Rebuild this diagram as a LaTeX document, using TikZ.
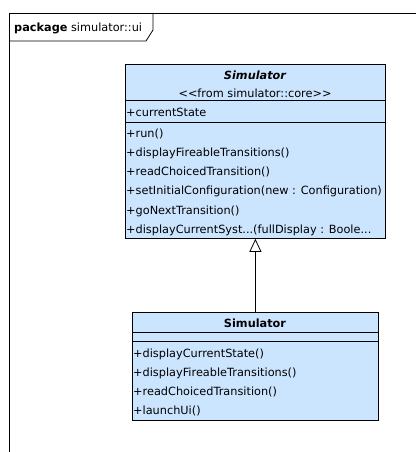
\documentclass[tikz,border=0pt]{standalone}
\usepackage{fontspec}
\newfontfamily\umlfont{DejaVu Sans}
\usetikzlibrary{arrows.meta,calc}
\definecolor{classblue}{RGB}{204,229,255}

\begin{document}
\begin{tikzpicture}[x=1pt,y=-1pt,
	  every node/.style={font=\umlfont\fontsize{11.3}{13}\selectfont,inner sep=0pt},
	  classbox/.style={draw=black,fill=classblue,line width=0.8pt,anchor=north west},
	  member/.style={anchor=base west},
	  title/.style={anchor=base},
	  frame/.style={line width=0.8pt},
	  separator/.style={line width=0.8pt},
	  inherit/.style={-{Triangle[open,width=12pt,length=13pt]},line width=0.8pt}]

	  \useasboundingbox (0,0) rectangle (416,452);

	  % package frame and its tab
	  \draw[frame] (9,452) -- (9,13) -- (416,13);
	  \draw[frame] (9,41) -- (146,41) -- (153,30) -- (153,13);
	  \node[member] (pkg) at (14,32) {\textbf{package} simulator::ui};

	  % class from simulator::core
	  \node[classbox,minimum width=260pt,minimum height=174pt] (core) at (125,64) {};
	  \draw[separator] ($(core.north west)+(0,36)$) -- ($(core.north east)+(0,36)$);
	  \draw[separator] ($(core.north west)+(0,58)$) -- ($(core.north east)+(0,58)$);
	  \node[title] (coretitle) at (255,79) {\bfseries\itshape Simulator};
	  \node[title] (corestereo) at (255,97) {<<from simulator::core>>};
	  \node[member] (currentstate) at (126,116) {+currentState};
	  \node[member] (run) at (126,137) {+run()};
	  \node[member] (corefireable) at (126,156) {+displayFireableTransitions()};
	  \node[member] (corechoiced) at (126,175) {+readChoicedTransition()};
	  \node[member] (initconf) at (126,194) {+setInitialConfiguration(new : Configuration)};
	  \node[member] (gonext) at (126,214) {+goNextTransition()};
	  \node[member] (currentsyst) at (126,233) {+displayCurrentSyst...(fullDisplay : Boole...};

	  % class of simulator::ui
	  \node[classbox,minimum width=246pt,minimum height=108pt] (ui) at (132,312) {};
	  \draw[separator] ($(ui.north west)+(0,20)$) -- ($(ui.north east)+(0,20)$);
	  \draw[separator] ($(ui.north west)+(0,29)$) -- ($(ui.north east)+(0,29)$);
	  \node[title] (uititle) at (255,327) {\bfseries Simulator};
	  \node[member] (uicurrent) at (133,357) {+displayCurrentState()};
	  \node[member] (uifireable) at (133,376) {+displayFireableTransitions()};
	  \node[member] (uichoiced) at (133,395) {+readChoicedTransition()};
	  \node[member] (launch) at (133,414) {+launchUi()};

	  % generalization
	  \draw[inherit] (ui.north) -- (core.south);
\end{tikzpicture}
\end{document}
